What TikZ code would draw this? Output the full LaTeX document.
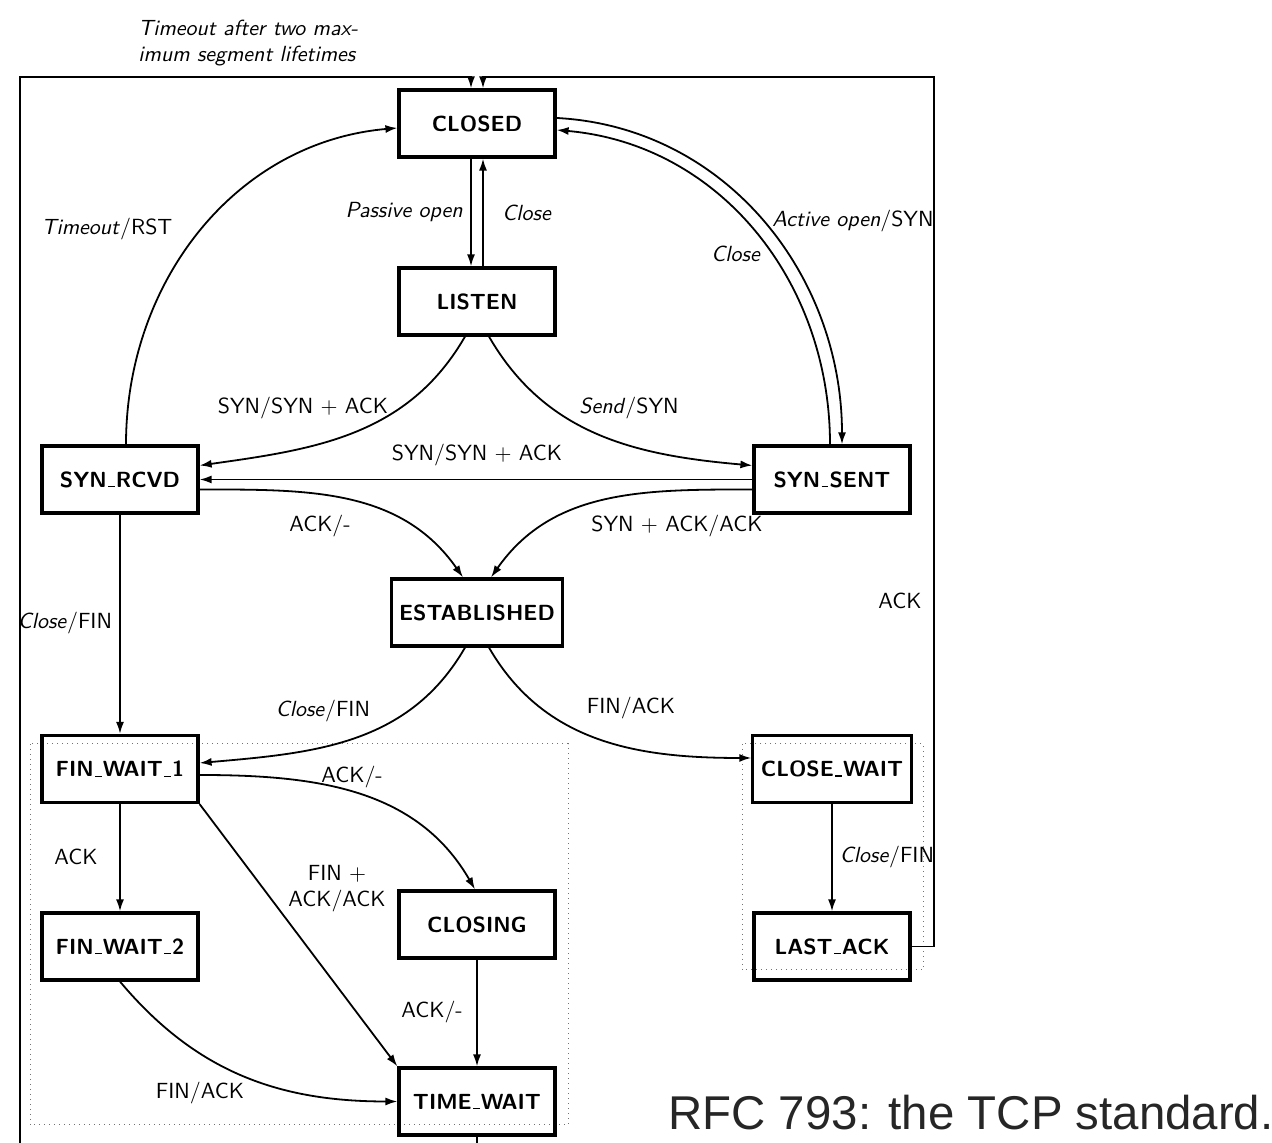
\documentclass[tikz,border=0pt]{standalone}
\usepackage{fontspec}
\newfontfamily\rfcfont{Liberation Sans}
\usetikzlibrary{arrows.meta}
\newcommand\usc{\kern.06em\rule{0.3em}{0.55pt}\kern.06em}
\begin{document}
\begin{tikzpicture}[x=0.5pt,y=0.5pt,
  font=\sffamily\fontsize{10.95}{13}\selectfont,
  state/.style={draw, line width=1.6pt, minimum width=78pt, minimum height=33.5pt, inner sep=4pt,
    font=\sffamily\bfseries\fontsize{10.95}{13}\selectfont},
  edge/.style={line width=0.9pt, -{Latex[length=6pt,width=4pt]}},
  lbl/.style={inner sep=1pt},
  group/.style={dotted, black!55, line width=0.5pt}]
\path[use as bounding box] (0,0) rectangle (1272,1143);
\clip (0,0) rectangle (1272,1143);
% groups
\draw[group] (30,399) rectangle (568,18);
\draw[group] (742,399) rectangle (923,173);
% states
\node[state] (CLOSED) at (477,1019.5) {CLOSED};
\node[state] (LISTEN) at (477,841.5) {LISTEN};
\node[state] (SYNRCVD) at (120,663.5) {SYN\usc RCVD};
\node[state] (SYNSENT) at (832,663.5) {SYN\usc SENT};
\node[state] (EST) at (477,530.5) {ESTABLISHED};
\node[state] (FW1) at (120,374) {FIN\usc WAIT\usc 1};
\node[state] (CW) at (832,374) {CLOSE\usc WAIT};
\node[state] (FW2) at (120,196.5) {FIN\usc WAIT\usc 2};
\node[state] (CLOSING) at (477,218.5) {CLOSING};
\node[state] (LA) at (832,196.5) {LAST\usc ACK};
\node[state] (TW) at (477,41.5) {TIME\usc WAIT};
% frame corners
\coordinate (rtop) at (934,1066);
\coordinate (ltop) at (20,1066);
\coordinate (lbot) at (20,-30);
% edges
\draw[edge] ([xshift=-3pt]CLOSED.south) -- ([xshift=-3pt]LISTEN.north);
\draw[edge] ([xshift=3pt]LISTEN.north) -- ([xshift=3pt]CLOSED.south);
\draw[edge] ([xshift=-6pt]LISTEN.south) to[out=-120,in=8] ([yshift=7pt]SYNRCVD.east);
\draw[edge] ([xshift=6pt]LISTEN.south) to[out=-60,in=175] ([yshift=7pt]SYNSENT.west);
\draw[edge] (SYNSENT.west) -- (SYNRCVD.east);
\draw[edge] ([yshift=-5pt]SYNRCVD.east) to[out=0,in=125] ([xshift=-7pt]EST.north);
\draw[edge] ([yshift=-5pt]SYNSENT.west) to[out=180,in=55] ([xshift=7pt]EST.north);
\draw[edge] ([xshift=3pt]SYNRCVD.north) to[out=90,in=185] ([yshift=-2.25pt]CLOSED.west);
\draw[edge] ([yshift=2.75pt]CLOSED.east) to[out=-3,in=90] ([xshift=5pt]SYNSENT.north);
\draw[edge] ([xshift=-1pt]SYNSENT.north) to[out=90,in=-5] ([yshift=-3.25pt]CLOSED.east);
\draw[edge] (SYNRCVD.south) -- (FW1.north);
\draw[edge] ([xshift=-6pt]EST.south) to[out=-120,in=5] ([yshift=3pt]FW1.east);
\draw[edge] ([xshift=6pt]EST.south) to[out=-60,in=180] ([yshift=5.5pt]CW.west);
\draw[edge] ([yshift=-3pt]FW1.east) to[out=0,in=120] ([xshift=-1pt]CLOSING.north);
\draw[edge] (FW1.south east) -- (TW.north west);
\draw[edge] (FW1.south) -- (FW2.north);
\draw[edge] (CLOSING.south) -- (TW.north);
\draw[edge] (FW2.south) to[out=-50,in=180] (TW.west);
\draw[edge] (CW.south) -- (LA.north);
\draw[edge] (LA.east) -| (rtop) -| ([xshift=3pt]CLOSED.north);
\draw[edge] (TW.south) |- (lbot) -- (ltop) -| ([xshift=-3pt]CLOSED.north);
% labels
\node[lbl, anchor=west, align=left] (ltimeout) at (136,1100) {\textit{Timeout after two max-}\\\textit{imum segment lifetimes}};
\node[lbl, anchor=east] (lpassive) at (465,931) {\textit{Passive open}};
\node[lbl] (lclose1) at (527,930) {\textit{Close}};
\node[lbl] (lrst) at (107,914) {\textit{Timeout}/RST};
\node[lbl] (lactive) at (853,922) {\textit{Active open}/SYN};
\node[lbl] (lclose2) at (736,889) {\textit{Close}};
\node[lbl] (lsynack1) at (303,735) {SYN/SYN $+$ ACK};
\node[lbl] (lsend) at (629,735) {\textit{Send}/SYN};
\node[lbl] (lsynack2) at (477,688) {SYN/SYN $+$ ACK};
\node[lbl] (lack1) at (320,617) {ACK/-};
\node[lbl] (lsynackack) at (677,617) {SYN $+$ ACK/ACK};
\node[lbl] (lackr) at (900,542) {ACK};
\node[lbl] (lclosefin1) at (65,520) {\textit{Close}/FIN};
\node[lbl] (lclosefin2) at (323,432) {\textit{Close}/FIN};
\node[lbl] (lfinack1) at (631,435) {FIN/ACK};
\node[lbl] (lack2) at (352,366) {ACK/-};
\node[lbl] (lack3) at (76,286) {ACK};
\node[lbl, align=center] (lfinackack) at (337,254) {FIN $+$\\ACK/ACK};
\node[lbl] (lclosefin3) at (887,286) {\textit{Close}/FIN};
\node[lbl] (lack4) at (432,131) {ACK/-};
\node[lbl] (lfinack2) at (200,50) {FIN/ACK};
\node[anchor=base west, inner sep=0pt, text=black!85, font=\rfcfont\fontsize{23.7}{28}\selectfont] (rfc) at (668,13) {RFC 793: the TCP standard.};
\end{tikzpicture}
\end{document}
